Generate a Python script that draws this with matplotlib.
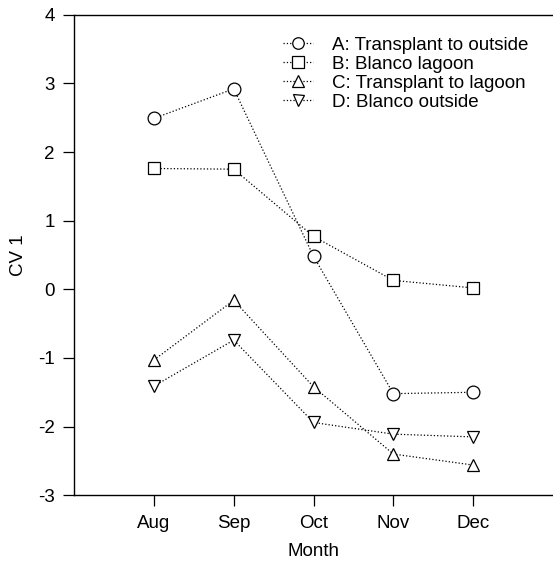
import numpy as np
import matplotlib.pyplot as plt

plt.rcParams['font.family'] = ['Liberation Sans', 'DejaVu Sans']
plt.rcParams['axes.unicode_minus'] = False

months = ['Aug', 'Sep', 'Oct', 'Nov', 'Dec']
a_transplant_outside = [2.49, 2.92, 0.48, -1.52, -1.50]
b_blanco_lagoon = [1.76, 1.75, 0.77, 0.13, 0.02]
c_transplant_lagoon = [-1.03, -0.16, -1.42, -2.40, -2.56]
d_blanco_outside = [-1.41, -0.74, -1.94, -2.11, -2.15]

series = [
    ('A: Transplant to outside', a_transplant_outside, 'o'),
    ('B: Blanco lagoon', b_blanco_lagoon, 's'),
    ('C: Transplant to lagoon', c_transplant_lagoon, '^'),
    ('D: Blanco outside', d_blanco_outside, 'v'),
]

fig = plt.figure(figsize=(5.53, 5.66), dpi=100)
ax = fig.add_axes([0.134, 0.125, 0.866, 0.849])

x = np.arange(1, len(months) + 1)
for label, vals, m in series:
    ax.plot(x, vals, linestyle=':', color='black', linewidth=0.9,
            marker=m, markersize=9.2 if m == 'o' else 8.8,
            markerfacecolor='white', markeredgecolor='black',
            markeredgewidth=0.9, label=label)

ax.set_xlim(0, 6)
ax.set_ylim(-3, 4)
ax.set_xticks(x)
ax.set_xticklabels(months)
ax.set_yticks(range(-3, 5))
ax.tick_params(direction='out', length=8, width=0.9, labelsize=13.5, pad=6)
ax.spines['right'].set_visible(False)
for s in ['left', 'bottom', 'top']:
    ax.spines[s].set_linewidth(1.0)

ax.set_xlabel('Month', fontsize=13.5, labelpad=8)
ax.set_ylabel('CV 1', fontsize=13.5, labelpad=8)

ax.legend(loc='upper left', bbox_to_anchor=(0.436, 0.954), frameon=False,
          fontsize=13.5, handlelength=1.6, handletextpad=1.0,
          labelspacing=0.1, borderaxespad=0, borderpad=0, markerscale=0.9)

fig.savefig('out.png', dpi=100)
